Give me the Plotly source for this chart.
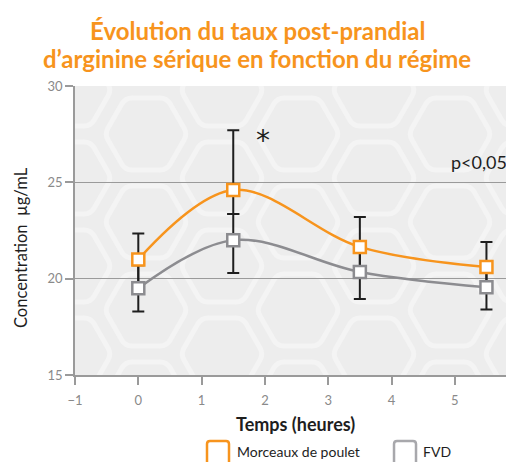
import plotly.graph_objects as go

# ---------------- data ----------------
hours = [0, 1.5, 3.5, 5.5]
poulet = [21.0, 24.6, 21.65, 20.6]
poulet_err_up = [1.35, 3.1, 1.55, 1.3]
poulet_err_down = [1.35, 1.25, 1.55, 1.3]
fvd = [19.5, 22.0, 20.35, 19.55]
fvd_err_up = [1.2, 1.35, 1.4, 1.15]
fvd_err_down = [1.2, 1.7, 1.4, 1.15]
x_ticks = [-1, 0, 1, 2, 3, 4, 5]
y_ticks = [15, 20, 25, 30]
series_names = ["Morceaux de poulet", "FVD"]
title_lines = ["Évolution du taux post-prandial", "d’arginine sérique en fonction du régime"]

ORANGE = "#F7941D"
GREY = "#8C8C90"
INK = "#1e1e1e"
TICK = "#8a8a8a"

# the page adds an 8px body margin, so the figure is made 8px smaller
OFF = 8
W, H = 514 - OFF, 462 - OFF
REF_L, REF_T = 75, 86          # plot area corner in window pixels
PLOT_W = 514 - REF_L
PLOT_H = 289
X0 = -1
PX_PER_X = 63.3
X1 = X0 + PLOT_W / PX_PER_X
Y0, Y1 = 15, 30


def px2x(px):
    return X0 + (px - REF_L) / PX_PER_X


def py2y(py):
    return Y1 - (py - REF_T) / PLOT_H * (Y1 - Y0)


def px2paper(px):
    return (px - REF_L) / PLOT_W


def py2paper(py):
    return (REF_T + PLOT_H - py) / PLOT_H


def rounded_poly(pts, r, conv_x, conv_y):
    n = len(pts)
    parts = []

    def towards(a, b, d):
        dx, dy = b[0] - a[0], b[1] - a[1]
        ln = (dx * dx + dy * dy) ** 0.5
        return (a[0] + dx / ln * d, a[1] + dy / ln * d)

    for i in range(n):
        p_prev, p, p_next = pts[i - 1], pts[i], pts[(i + 1) % n]
        a = towards(p, p_prev, r)
        b = towards(p, p_next, r)
        cmd = "M" if i == 0 else "L"
        parts.append(f"{cmd}{conv_x(a[0]):.4f},{conv_y(a[1]):.4f}")
        parts.append(f"Q{conv_x(p[0]):.4f},{conv_y(p[1]):.4f} {conv_x(b[0]):.4f},{conv_y(b[1]):.4f}")
    parts.append("Z")
    return " ".join(parts)


shapes = []
# decorative honeycomb background
R_HEX = 41.5
HH = 36
for k in range(-1, 6):
    cx = 146 + 76 * k
    base = 134 if k % 2 == 0 else 90
    for j in range(-1, 4):
        cy = base + 88 * j
        pts = [(cx - R_HEX, cy), (cx - R_HEX / 2, cy - HH), (cx + R_HEX / 2, cy - HH),
               (cx + R_HEX, cy), (cx + R_HEX / 2, cy + HH), (cx - R_HEX / 2, cy + HH)]
        shapes.append(dict(type="path", xref="x", yref="y", layer="below",
                           path=rounded_poly(pts, 7, px2x, py2y),
                           line=dict(color="#f4f4f4", width=5)))

# legend swatches (drawn manually to get large squares)
for x0, col in [(207, ORANGE), (394, "#a8a8ac")]:
    pts = [(x0, 441), (x0 + 22, 441), (x0 + 22, 475), (x0, 475)]
    shapes.append(dict(type="path", xref="paper", yref="paper", layer="above",
                       path=rounded_poly(pts, 3, px2paper, py2paper),
                       line=dict(color=col, width=2.5)))

fig = go.Figure()

# error bars first so markers sit on top
for vals, up, down in [(fvd, fvd_err_up, fvd_err_down), (poulet, poulet_err_up, poulet_err_down)]:
    fig.add_trace(go.Scatter(
        x=hours, y=vals, mode="markers", showlegend=False, hoverinfo="skip",
        marker=dict(size=1, opacity=0),
        error_y=dict(type="data", symmetric=False, array=up, arrayminus=down,
                     color=INK, thickness=2, width=6)))

fig.add_trace(go.Scatter(
    x=hours, y=fvd, name=series_names[1], mode="lines+markers", showlegend=False,
    line=dict(color=GREY, width=2.5, shape="spline", smoothing=1),
    marker=dict(symbol="square", size=12, color="white", line=dict(color=GREY, width=2.5))))
fig.add_trace(go.Scatter(
    x=hours, y=poulet, name=series_names[0], mode="lines+markers", showlegend=False,
    line=dict(color=ORANGE, width=2.5, shape="spline", smoothing=1),
    marker=dict(symbol="square", size=12, color="white", line=dict(color=ORANGE, width=2.5))))


def note(text, px, py, size, color=INK, family="Lato", weight="normal", xanchor="center", **kw):
    return dict(text=text, x=px2paper(px), y=py2paper(py), xref="paper", yref="paper",
                xanchor=xanchor, yanchor="middle", showarrow=False,
                font=dict(size=size, color=color, family=family, weight=weight), **kw)


annotations = [
    note(title_lines[0], 257, 31, 24, ORANGE, weight="bold"),
    note(title_lines[1], 257, 58, 24, ORANGE, weight="bold"),
    dict(text="*", x=px2x(263), y=py2y(140), xref="x", yref="y", showarrow=False,
         xanchor="center", yanchor="middle",
         font=dict(size=28, color=INK, family="DejaVu Sans")),
    note("p<0,05", 479, 162, 18),
    note("Concentration  µg/mL", 21, 248, 16.5, textangle=-90),
    note("Temps (heures)", 295, 424, 18, weight="bold"),
    note("6", 518, 400, 13, TICK),
    note(series_names[0], 235, 452, 14, xanchor="left"),
    note(series_names[1], 421, 452, 14, xanchor="left"),
]

fig.update_layout(
    width=W, height=H,
    margin=dict(l=REF_L - OFF, r=0, t=REF_T - OFF, b=H - (REF_T - OFF) - PLOT_H, autoexpand=False),
    paper_bgcolor="white", plot_bgcolor="#ededed",
    shapes=shapes, annotations=annotations,
    showlegend=False,
)
fig.update_xaxes(range=[X0, X1], tickvals=x_ticks, ticktext=[str(v).replace("-", "−") for v in x_ticks],
                 showgrid=False, zeroline=False, showline=True, linecolor="#9a9a9a", linewidth=1.5,
                 ticks="outside", ticklen=8, tickcolor="#9a9a9a", tickwidth=1.5,
                 ticklabelstandoff=5,
                 tickfont=dict(size=13, color=TICK, family="Lato"))
fig.update_yaxes(range=[Y0, Y1], tickvals=y_ticks, showgrid=True, gridcolor="#9a9a9a", gridwidth=1.2,
                 zeroline=False, showline=True, linecolor="#9a9a9a", linewidth=1.5,
                 ticks="outside", ticklen=8, tickcolor="#9a9a9a", tickwidth=1.5,
                 tickfont=dict(size=13, color=TICK, family="Lato"))

fig.write_html("out.html")
